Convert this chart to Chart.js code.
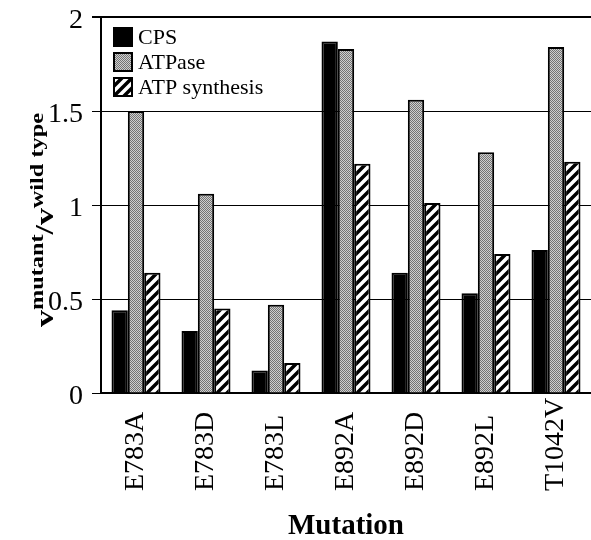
<!DOCTYPE html>
<html>
<head>
<meta charset="utf-8">
<script src="https://cdn.jsdelivr.net/npm/chart.js@4/dist/chart.umd.min.js"></script>
<style>
  html, body { margin: 0; padding: 0; background: #fff; }
  #wrap { width: 591px; height: 540px; }
</style>
</head>
<body>
<div id="wrap"><canvas id="mutChart" width="591" height="540"></canvas></div>
<script>
// data
var mutations = ['E783A', 'E783D', 'E783L', 'E892A', 'E892D', 'E892L', 'T1042V'];
var cpsValues = [0.44, 0.33, 0.12, 1.87, 0.64, 0.53, 0.76];
var atpaseValues = [1.50, 1.06, 0.47, 1.83, 1.56, 1.28, 1.84];
var synthesisValues = [0.64, 0.45, 0.16, 1.22, 1.01, 0.74, 1.23];
var yTicks = [0, 0.5, 1, 1.5, 2];

var serif = "'Liberation Serif', 'DejaVu Serif', serif";

// gray stipple fill
function grayPattern() {
    var c = document.createElement('canvas');
    c.width = 2; c.height = 2;
    var g = c.getContext('2d');
    g.fillStyle = '#cfcfcf';
    g.fillRect(0, 0, 2, 2);
    g.fillStyle = '#747474';
    g.fillRect(0, 0, 1, 1);
    g.fillRect(1, 1, 1, 1);
    return g.createPattern(c, 'repeat');
}

// thick diagonal hatch
function hatchPattern() {
    var s = 10;
    var c = document.createElement('canvas');
    c.width = s; c.height = s;
    var g = c.getContext('2d');
    g.fillStyle = '#fff';
    g.fillRect(0, 0, s, s);
    g.strokeStyle = '#000';
    g.lineWidth = 3.5;
    g.beginPath();
    g.moveTo(-s, 2 * s); g.lineTo(2 * s, -s);
    g.moveTo(-2 * s, 2 * s); g.lineTo(s, -s);
    g.moveTo(0, 2 * s); g.lineTo(3 * s, -s);
    g.stroke();
    return g.createPattern(c, 'repeat');
}

var fills = ['#000', grayPattern(), hatchPattern()];

// legend inside the plot, x labels, and the y title with superscripts
var extrasPlugin = {
    id: 'extras',
    afterDraw: function(chart) {
        var ctx = chart.ctx;
        var area = chart.chartArea;
        var xs = chart.scales.x;
        ctx.save();

        // top frame line
        ctx.strokeStyle = '#000';
        ctx.lineWidth = 2;
        ctx.beginPath();
        ctx.moveTo(area.left - 9, area.top);
        ctx.lineTo(area.right, area.top);
        ctx.stroke();

        // category labels, vertical, starting from a common baseline below
        ctx.fillStyle = '#000';
        ctx.font = '28px ' + serif;
        ctx.textAlign = 'left';
        ctx.textBaseline = 'middle';
        mutations.forEach(function(m, i) {
            ctx.save();
            ctx.translate(xs.getPixelForTick(i), 491);
            ctx.rotate(-Math.PI / 2);
            ctx.fillText(m, 0, 0);
            ctx.restore();
        });

        // legend
        ctx.font = '22px ' + serif;
        ctx.textBaseline = 'middle';
        chart.data.datasets.forEach(function(ds, i) {
            var y = 37 + i * 25;
            ctx.fillStyle = ds.backgroundColor;
            ctx.fillRect(114, y - 9, 18, 18);
            ctx.lineWidth = 2;
            ctx.strokeStyle = '#000';
            ctx.strokeRect(114, y - 9, 18, 18);
            ctx.fillStyle = '#000';
            ctx.fillText(ds.label, 138, y + 1);
        });

        // y title: v^mutant / v^wild type
        var parts = [
            { t: 'v', size: 25, up: 0 },
            { t: 'mutant', size: 18, up: 10 },
            { t: '/', size: 25, up: 0 },
            { t: 'v', size: 25, up: 0 },
            { t: 'wild type', size: 18, up: 10 }
        ];
        var total = 0;
        parts.forEach(function(p) {
            ctx.font = 'bold ' + p.size + 'px ' + serif;
            p.w = ctx.measureText(p.t).width;
            total += p.w;
        });
        ctx.translate(53, 220);
        ctx.rotate(-Math.PI / 2);
        ctx.scale(214 / total, 1);
        ctx.textBaseline = 'alphabetic';
        ctx.textAlign = 'left';
        ctx.fillStyle = '#000';
        var x = -total / 2;
        parts.forEach(function(p) {
            ctx.font = 'bold ' + p.size + 'px ' + serif;
            ctx.fillText(p.t, x, -p.up);
            x += p.w;
        });
        ctx.restore();
    }
};

var ctx = document.getElementById('mutChart').getContext('2d');
new Chart(ctx, {
    type: 'bar',
    data: {
        labels: mutations,
        datasets: [
            { label: 'CPS', data: cpsValues, backgroundColor: fills[0] },
            { label: 'ATPase', data: atpaseValues, backgroundColor: fills[1] },
            { label: 'ATP synthesis', data: synthesisValues, backgroundColor: fills[2] }
        ].map(function(ds) {
            ds.borderColor = '#000';
            ds.borderWidth = 2;
            ds.categoryPercentage = 0.7;
            ds.barPercentage = 1.0;
            return ds;
        })
    },
    options: {
        responsive: false,
        animation: false,
        layout: { padding: { top: 17, right: 0, left: 0, bottom: 0 } },
        plugins: {
            legend: { display: false },
            tooltip: { enabled: false }
        },
        scales: {
            x: {
                grid: { display: false },
                border: { color: '#000', width: 2 },
                ticks: { display: false },
                title: {
                    display: true,
                    text: 'Mutation',
                    color: '#000',
                    font: { family: serif, size: 29, weight: 'bold', lineHeight: 0.9 },
                    padding: { top: 10, bottom: 0 }
                },
                afterFit: function(scale) {
                    scale.height = 147;
                    scale.paddingLeft = 0;
                    scale.paddingRight = 0;
                }
            },
            y: {
                min: 0,
                max: 2,
                afterBuildTicks: function(scale) {
                    scale.ticks = yTicks.map(function(v) { return { value: v }; });
                },
                grid: {
                    color: '#000',
                    lineWidth: 1,
                    tickLength: 9,
                    drawTicks: true
                },
                border: { color: '#000', width: 2 },
                ticks: {
                    color: '#000',
                    font: { family: serif, size: 28 },
                    padding: 9,
                    labelOffset: 4,
                    callback: function(v) { return String(v); }
                },
                afterFit: function(scale) {
                    scale.width = 101;
                    scale.paddingTop = 0;
                    scale.paddingBottom = 0;
                }
            }
        }
    },
    plugins: [extrasPlugin]
});
</script>
</body>
</html>
